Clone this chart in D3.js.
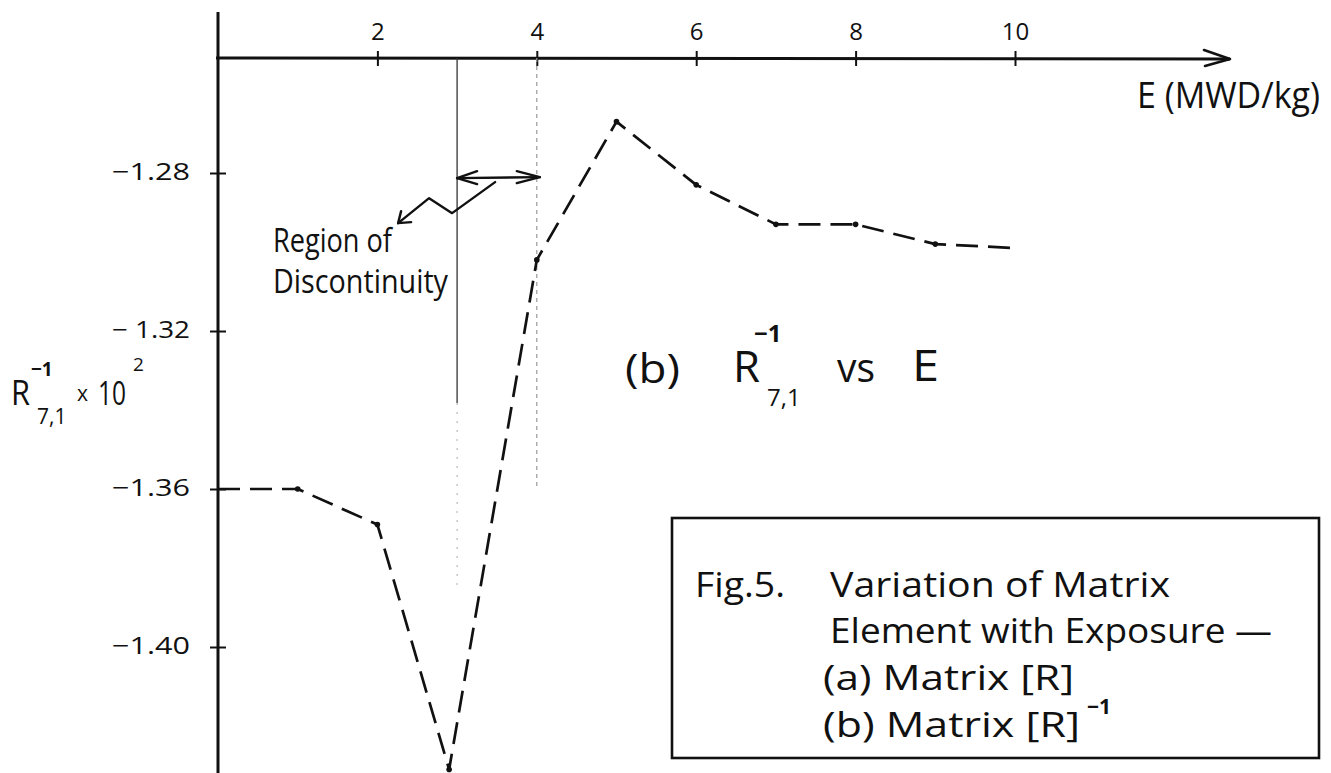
<!DOCTYPE html>
<html>
<head>
<meta charset="utf-8">
<title>R-1 7,1 vs E</title>
<script src="https://cdn.jsdelivr.net/npm/d3@7/dist/d3.min.js"></script>
<style>
  html, body { margin: 0; background: #fff; }
  svg { display: block; }
  text { font-family: "Open Sans", "DejaVu Sans", sans-serif; fill: #111; }
</style>
</head>
<body>
<svg id="chart" width="1331" height="773"></svg>
<script>
// Exposure E (MWD/kg) and matrix element R^-1(7,1) x 10^2
const exposure = [0, 1, 2, 2.9, 4, 5, 6, 7, 8, 9, 10];
const elementValue = [-1.360, -1.360, -1.369, -1.431, -1.302, -1.267, -1.283, -1.293, -1.293, -1.298, -1.299];
const xTickValues = [2, 4, 6, 8, 10];
const yTickValues = [-1.28, -1.32, -1.36, -1.40];
const yTickLabels = ["\u22121.28", "\u2212 1.32", "\u22121.36", "\u22121.40"];
const discontinuity = [3, 4];

const ink = "#111";
const W = 1331, H = 773;
const svg = d3.select("#chart");

const x = d3.scaleLinear().domain([0, 10]).range([218, 1015]);
const y = d3.scaleLinear().domain([-1.28, -1.40]).range([173, 647]);
const axisY = 58, axisX = x(0), xEnd = 1230;

// ---- horizontal axis (drawn along the top) ----
const gx = svg.append("g")
  .attr("transform", `translate(0,${axisY})`)
  .call(d3.axisTop(x).tickValues(xTickValues).tickSize(7).tickPadding(11).tickFormat(d3.format("d")));
gx.attr("font-family", null).attr("font-size", null);
gx.select(".domain").remove();
gx.selectAll(".tick line").attr("y1", 8).attr("stroke", ink).attr("stroke-width", 2);
gx.selectAll(".tick text").attr("font-size", 24).attr("fill", ink);

svg.append("line")
  .attr("x1", axisX - 2).attr("x2", xEnd)
  .attr("y1", axisY).attr("y2", axisY + 1)
  .attr("stroke", ink).attr("stroke-width", 3);
svg.append("path")
  .attr("d", `M${xEnd - 26},${axisY - 8} L${xEnd},${axisY + 1} L${xEnd - 25},${axisY + 8}`)
  .attr("fill", "none").attr("stroke", ink).attr("stroke-width", 2.6)
  .attr("stroke-linejoin", "round").attr("stroke-linecap", "round");

svg.append("text")
  .attr("x", 1137).attr("y", 108)
  .attr("font-size", 36)
  .attr("textLength", 183).attr("lengthAdjust", "spacingAndGlyphs")
  .text("E (MWD/kg)");

// ---- vertical axis ----
const gy = svg.append("g")
  .attr("transform", `translate(${axisX},0)`)
  .call(d3.axisLeft(y).tickValues(yTickValues).tickSize(8).tickPadding(20)
    .tickFormat((d, i) => yTickLabels[i]));
gy.attr("font-family", null).attr("font-size", null);
gy.select(".domain").remove();
gy.selectAll(".tick line").attr("x1", 8).attr("stroke", ink).attr("stroke-width", 2);
gy.selectAll(".tick text")
  .attr("font-size", 24).attr("dy", "0.28em").attr("fill", ink)
  .attr("textLength", 78).attr("lengthAdjust", "spacingAndGlyphs");

svg.append("line")
  .attr("x1", axisX).attr("x2", axisX)
  .attr("y1", 12).attr("y2", H)
  .attr("stroke", ink).attr("stroke-width", 3);

// axis title: R^-1_{7,1} x 10^2
const yTitle = svg.append("g");
yTitle.append("text").attr("x", 11).attr("y", 405).attr("font-size", 34)
  .attr("textLength", 19).attr("lengthAdjust", "spacingAndGlyphs").text("R");
yTitle.append("text").attr("x", 31).attr("y", 376).attr("font-size", 19).attr("font-weight", 700).text("\u22121");
yTitle.append("text").attr("x", 37).attr("y", 424).attr("font-size", 21).text("7,1");
yTitle.append("text").attr("x", 77).attr("y", 401).attr("font-size", 21).text("x");
yTitle.append("text").attr("x", 98).attr("y", 405).attr("font-size", 32)
  .attr("textLength", 28).attr("lengthAdjust", "spacingAndGlyphs").text("10");
yTitle.append("text").attr("x", 133).attr("y", 371).attr("font-size", 19).text("2");

// ---- region of discontinuity ----
const x3 = x(discontinuity[0]), x4 = x(discontinuity[1]);
svg.append("line")
  .attr("x1", x3).attr("x2", x3).attr("y1", axisY).attr("y2", 403)
  .attr("stroke", "#333").attr("stroke-width", 1.3);
svg.append("line")
  .attr("x1", x3).attr("x2", x3).attr("y1", 403).attr("y2", 585)
  .attr("stroke", "#aaa").attr("stroke-width", 1).attr("stroke-dasharray", "2,7");
svg.append("line")
  .attr("x1", x4).attr("x2", x4).attr("y1", axisY).attr("y2", 488)
  .attr("stroke", "#999").attr("stroke-width", 1.2).attr("stroke-dasharray", "4,4");

const arrowY = y(-1.2813);
const ann = svg.append("g")
  .attr("fill", "none").attr("stroke", ink).attr("stroke-width", 2.4)
  .attr("stroke-linecap", "round").attr("stroke-linejoin", "round");
ann.append("path").attr("d", `M${x3},${arrowY} L${x4 + 3},${arrowY - 1}`);
ann.append("path").attr("d", `M${x3 + 20},${arrowY - 7} L${x3},${arrowY} L${x3 + 20},${arrowY + 6}`);
ann.append("path").attr("d", `M${x4 - 20},${arrowY - 7} L${x4 + 3},${arrowY - 1} L${x4 - 20},${arrowY + 5}`);
// zig-zag leader pointing at the note
ann.append("path").attr("d",
  `M${x3 + 38},${arrowY + 4} L${x3 - 5},${arrowY + 35} L${x3 - 28},${arrowY + 20} L${x3 - 59},${arrowY + 45}`);
ann.append("path").attr("d",
  `M${x3 - 56},${arrowY + 33} L${x3 - 59},${arrowY + 45} L${x3 - 46},${arrowY + 44}`);

svg.append("text").attr("x", 273).attr("y", 252).attr("font-size", 32)
  .attr("textLength", 119).attr("lengthAdjust", "spacingAndGlyphs").text("Region of");
svg.append("text").attr("x", 273).attr("y", 293).attr("font-size", 32)
  .attr("textLength", 175).attr("lengthAdjust", "spacingAndGlyphs").text("Discontinuity");

// ---- the curve ----
const pts = exposure.map((e, i) => [e, elementValue[i]]);
const line = d3.line().x(d => x(d[0])).y(d => y(d[1]));
svg.append("path")
  .datum(pts)
  .attr("d", line)
  .attr("fill", "none").attr("stroke", ink).attr("stroke-width", 2.7)
  .attr("stroke-dasharray", "22,10").attr("stroke-linejoin", "round");
svg.selectAll("circle.pt")
  .data(pts.slice(1, -1))
  .join("circle").attr("class", "pt")
  .attr("cx", d => x(d[0])).attr("cy", d => y(d[1]))
  .attr("r", 2.8).attr("fill", ink);

// ---- plot label: (b) R^-1_{7,1} vs E ----
const lab = svg.append("g");
lab.append("text").attr("x", 625).attr("y", 383).attr("font-size", 40)
  .attr("textLength", 55).attr("lengthAdjust", "spacingAndGlyphs").text("(b)");
lab.append("text").attr("x", 733).attr("y", 382).attr("font-size", 44)
  .attr("textLength", 27).attr("lengthAdjust", "spacingAndGlyphs").text("R");
lab.append("text").attr("x", 754).attr("y", 342).attr("font-size", 24).attr("font-weight", 700).text("\u22121");
lab.append("text").attr("x", 767).attr("y", 406).attr("font-size", 24).text("7,1");
lab.append("text").attr("x", 837).attr("y", 382).attr("font-size", 40)
  .attr("textLength", 38).attr("lengthAdjust", "spacingAndGlyphs").text("vs");
lab.append("text").attr("x", 912).attr("y", 381).attr("font-size", 44)
  .attr("textLength", 27).attr("lengthAdjust", "spacingAndGlyphs").text("E");

// ---- caption box ----
const cap = svg.append("g");
cap.append("rect")
  .attr("x", 672).attr("y", 518).attr("width", 647).attr("height", 240)
  .attr("fill", "none").attr("stroke", ink).attr("stroke-width", 2.6);
const capText = (tx, ty, len, s, size = 35) => cap.append("text")
  .attr("x", tx).attr("y", ty).attr("font-size", size)
  .attr("textLength", len).attr("lengthAdjust", "spacingAndGlyphs").text(s);
capText(695, 597, 90, "Fig.5.");
capText(830, 597, 340, "Variation of Matrix");
capText(830, 643, 442, "Element with Exposure \u2014");
capText(823, 690, 251, "(a) Matrix [R]");
capText(823, 737, 257, "(b) Matrix [R]");
cap.append("text").attr("x", 1087).attr("y", 714).attr("font-size", 21).attr("font-weight", 700).text("\u22121");
</script>
</body>
</html>
